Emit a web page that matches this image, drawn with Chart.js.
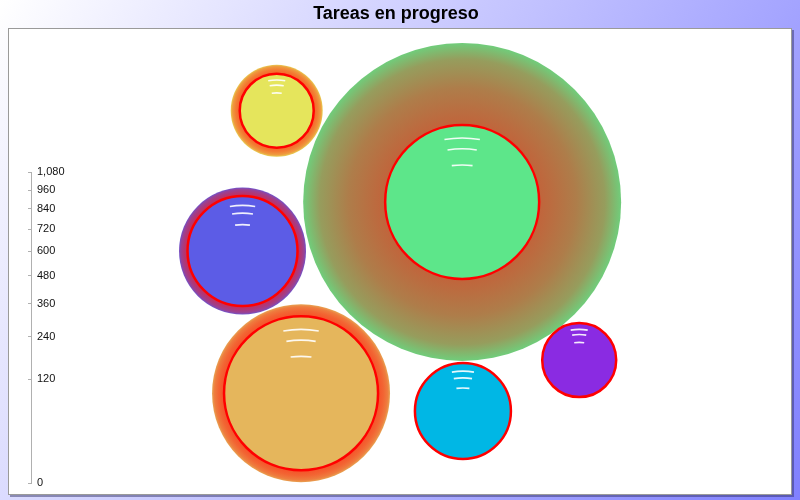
<!DOCTYPE html>
<html>
<head>
<meta charset="utf-8">
<title>Tareas en progreso</title>
<script src="https://cdn.jsdelivr.net/npm/chart.js@4.4.1/dist/chart.umd.min.js"></script>
<style>
  html, body { margin: 0; padding: 0; }
  #wrap { width: 800px; height: 500px; position: relative; }
</style>
</head>
<body>
<div id="wrap"><canvas id="chart" width="800" height="500"></canvas></div>
<script>
// Datos
const posX = [32.2, 56.6, 27.7, 35.4, 56.7, 72.0];
const valores = [1551, 884, 602, 90, 58, 169];
const radioInterno = [37, 77, 55, 77, 48, 37];
const radioExterno = [46, 159, 63.5, 89, 48, 37];
const ticksY = [0, 120, 240, 360, 480, 600, 720, 840, 960, 1080];

const colores = ['#e5e55c', '#5de68a', '#5c5ce6', '#e5b65c', '#00b7e5', '#8a2be2'];

// Escala de raiz cuadrada para el eje Y
class SqrtScale extends Chart.LinearScale {
    getPixelForValue(value) {
        const lo = Math.sqrt(this.min), hi = Math.sqrt(this.max);
        return this.getPixelForDecimal((Math.sqrt(Math.max(value, 0)) - lo) / (hi - lo));
    }
    getValueForPixel(pixel) {
        const lo = Math.sqrt(this.min), hi = Math.sqrt(this.max);
        const s = lo + this.getDecimalForPixel(pixel) * (hi - lo);
        return s * s;
    }
}
SqrtScale.id = 'sqrt';
SqrtScale.defaults = Chart.LinearScale.defaults;
Chart.register(SqrtScale);

// mezcla un color con rojo
function conRojo(hex, t) {
    const n = parseInt(hex.slice(1), 16);
    const r = (n >> 16) & 255, g = (n >> 8) & 255, b = n & 255;
    const m = (a, c) => Math.round(a + (c - a) * t);
    return 'rgb(' + m(r, 255) + ',' + m(g, 20) + ',' + m(b, 10) + ')';
}

function centro(chart, i) {
    return {
        x: chart.scales.x.getPixelForValue(posX[i]),
        y: chart.scales.y.getPixelForValue(valores[i])
    };
}

// fondo degradado y caja blanca del area de trazado
const fondoPlugin = {
    id: 'fondo',
    beforeDraw(chart) {
        const ctx = chart.ctx;
        ctx.save();
        const g = ctx.createLinearGradient(0, 0, chart.width, chart.height);
        g.addColorStop(0, '#ffffff');
        g.addColorStop(1, '#8080ff');
        ctx.fillStyle = g;
        ctx.fillRect(0, 0, chart.width, chart.height);
        // sombra
        ctx.fillStyle = 'rgba(40,40,90,0.45)';
        ctx.fillRect(10, 30, 784, 467);
        ctx.fillStyle = '#ffffff';
        ctx.fillRect(8, 28, 784, 467);
        ctx.strokeStyle = '#9a9a9a';
        ctx.lineWidth = 1;
        ctx.strokeRect(8.5, 28.5, 783, 466);
        ctx.restore();
    },
    beforeDatasetsDraw(chart) {
        // linea del eje solo entre 0 y 1080
        const ctx = chart.ctx, y = chart.scales.y;
        const x0 = Math.round(chart.chartArea.left) - 0.5;
        ctx.save();
        ctx.strokeStyle = '#b0b0b0';
        ctx.lineWidth = 1;
        ctx.beginPath();
        ctx.moveTo(x0, y.getPixelForValue(ticksY[0]));
        ctx.lineTo(x0, y.getPixelForValue(ticksY[ticksY.length - 1]));
        ctx.stroke();
        ctx.restore();
    }
};

// reflejos blancos sobre cada burbuja
const brilloPlugin = {
    id: 'brillo',
    afterDatasetsDraw(chart) {
        const ctx = chart.ctx;
        const meta = chart.getDatasetMeta(0);
        const arcos = [[0.83, 0.23], [0.69, 0.19], [0.48, 0.135]];
        ctx.save();
        ctx.strokeStyle = 'rgba(255,255,255,0.9)';
        ctx.lineWidth = 1.6;
        meta.data.forEach(function(el, i) {
            const r = radioInterno[i];
            const cy = el.y + 0.5 * r;
            arcos.forEach(function(a) {
                const R = (0.5 + a[0]) * r;
                const ang = Math.asin(a[1] * r / R);
                ctx.beginPath();
                ctx.arc(el.x, cy, R, -Math.PI / 2 - ang, -Math.PI / 2 + ang);
                ctx.stroke();
            });
        });
        ctx.restore();
    }
};

const puntos = posX.map(function(x, i) { return { x: x, y: valores[i] }; });

new Chart(document.getElementById('chart'), {
    type: 'bubble',
    data: {
        datasets: [
            {
                label: 'Tareas',
                order: 1,
                data: puntos,
                radius: ctx => radioInterno[ctx.dataIndex],
                hoverRadius: 0,
                backgroundColor: colores,
                borderColor: '#ff0000',
                borderWidth: 2.5,
                clip: false
            },
            {
                label: 'Halo',
                order: 2,
                data: puntos,
                radius: ctx => radioExterno[ctx.dataIndex],
                hoverRadius: 0,
                borderWidth: 0,
                clip: false,
                backgroundColor: function(ctx) {
                    const i = ctx.dataIndex;
                    if (ctx.type !== 'data' || !ctx.chart.chartArea) return colores[0];
                    if (radioExterno[i] <= radioInterno[i]) return 'rgba(0,0,0,0)';
                    const c = centro(ctx.chart, i);
                    const g = ctx.chart.ctx.createRadialGradient(c.x, c.y, radioInterno[i], c.x, c.y, radioExterno[i]);
                    g.addColorStop(0, conRojo(colores[i], 0.62));
                    g.addColorStop(0.45, conRojo(colores[i], 0.5));
                    g.addColorStop(0.8, conRojo(colores[i], 0.35));
                    g.addColorStop(1, conRojo(colores[i], 0.12));
                    return g;
                }
            }
        ]
    },
    options: {
        responsive: false,
        animation: false,
        events: [],
        layout: { autoPadding: false, padding: { left: 0, right: 8, top: 0, bottom: 17 } },
        plugins: {
            legend: { display: false },
            tooltip: { enabled: false },
            title: {
                display: true,
                text: 'Tareas en progreso',
                color: '#000000',
                font: { family: '"Liberation Sans", Arial, sans-serif', size: 18, weight: 'bold' },
                padding: { top: 3, bottom: 4 }
            }
        },
        scales: {
            x: { type: 'linear', display: false, min: 0, max: 100 },
            y: {
                type: 'sqrt',
                min: 0,
                max: 2310,
                afterBuildTicks: function(scale) {
                    scale.ticks = ticksY.map(function(v) { return { value: v }; });
                },
                afterFit: function(scale) { scale.width = 32; },
                border: { display: false },
                grid: { drawOnChartArea: false, tickLength: 4, color: '#b0b0b0' },
                ticks: {
                    mirror: true,
                    padding: 5,
                    autoSkip: false,
                    color: '#111111',
                    font: { family: '"Liberation Sans", Arial, sans-serif', size: 11 },
                    callback: v => v.toLocaleString('en-US')
                }
            }
        }
    },
    plugins: [fondoPlugin, brilloPlugin]
});
</script>
</body>
</html>
